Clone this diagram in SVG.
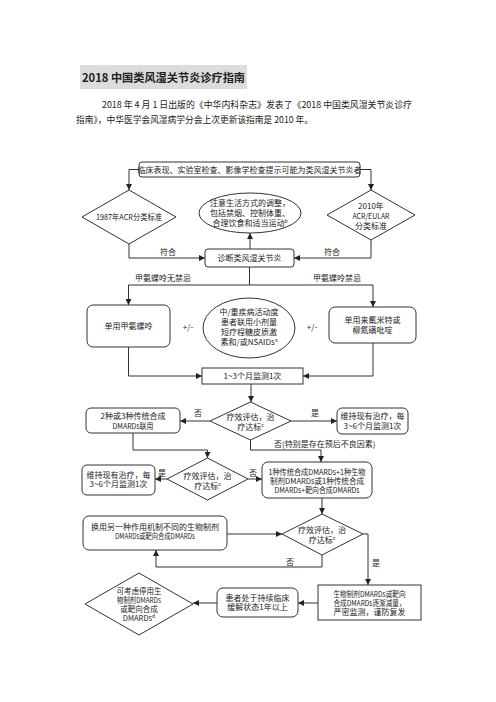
<svg xmlns="http://www.w3.org/2000/svg" width="496" height="702" viewBox="0 0 496 702">
<style>
text{font-family:"Noto Sans CJK SC","Liberation Serif",serif;fill:#222;}
.t{font-size:8px;text-anchor:middle;}
.s{font-size:7.5px;text-anchor:middle;}
.l{font-size:8px;}
.box{fill:#fff;stroke:#333;stroke-width:1;}
.ln{fill:none;stroke:#333;stroke-width:1;}
.ar{marker-end:url(#ah);}
.sup{font-size:5px;}
</style>
<defs>
<marker id="ah" markerUnits="userSpaceOnUse" markerWidth="6" markerHeight="6" refX="6" refY="3" orient="auto">
<path d="M0,0 L6,3 L0,6 z" fill="#222"/>
</marker>
</defs>
<rect width="496" height="702" fill="#fff"/>
<g id="title">
<rect x="80" y="65" width="167" height="24" fill="#dcdcdc"/>
<text x="82" y="82" font-size="11.5" font-weight="bold" textLength="163" lengthAdjust="spacingAndGlyphs">2018 中国类风湿关节炎诊疗指南</text>
</g>
<g id="paragraph">
<text x="102" y="108" font-size="9" fill="#333" textLength="310" lengthAdjust="spacingAndGlyphs">2018 年 4 月 1 日出版的《中华内科杂志》发表了《2018 中国类风湿关节炎诊疗</text>
<text x="76" y="122.5" font-size="9" fill="#333" textLength="237" lengthAdjust="spacingAndGlyphs">指南》，中华医学会风湿病学分会上次更新该指南是 2010 年。</text>
</g>
<g id="connectors">
<path class="ln ar" d="M139,169.5 H129 V190"/>
<path class="ln ar" d="M360,169.5 H371 V190"/>
<path class="ln ar" d="M129,244 V258 H205"/>
<path class="ln ar" d="M371,240 V258 H294"/>
<path class="ln ar" d="M250,249 V233"/>
<path class="ln ar" d="M249.5,267 V285 H128.5 V305"/>
<path class="ln ar" d="M249.5,285 H373 V307"/>
<path class="ln ar" d="M128.5,347 V376 H202"/>
<path class="ln ar" d="M373,343 V376 H303"/>
<path class="ln ar" d="M251,384 V402"/>
<path class="ln ar" d="M210,421 H180"/>
<path class="ln ar" d="M291,421 H337"/>
<path class="ln ar" d="M250.5,440 V450 H321 V462"/>
<path class="ln ar" d="M133,433 V450 H207.5 V458"/>
<path class="ln ar" d="M167,479 H155"/>
<path class="ln ar" d="M248,479 H262"/>
<path class="ln ar" d="M322,498 V514"/>
<path class="ln ar" d="M227,534 H282"/>
<path class="ln ar" d="M322,555 V567 H156 V550"/>
<path class="ln ar" d="M363,534 H368 V585"/>
<path class="ln ar" d="M318,603 H298"/>
<path class="ln ar" d="M217,603 H193"/>
<text class="l" x="160" y="255">符合</text>
<text class="l" x="324" y="255">符合</text>
<text class="t" x="163" y="281">甲氨蝶呤无禁忌</text>
<text class="t" x="337" y="281">甲氨蝶呤禁忌</text>
<text class="t" x="188" y="330">+/-</text>
<text class="t" x="312" y="330">+/-</text>
<text class="l" x="194" y="416">否</text>
<text class="l" x="311" y="416">是</text>
<text class="l" x="274" y="446.5">否(特别是存在预后不良因素)</text>
<text class="l" x="158" y="476">是</text>
<text class="l" x="249" y="476">否</text>
<text class="l" x="286" y="565">否</text>
<text class="l" x="372" y="566">是</text>
</g>
<g id="n-start">
<rect class="box" x="139" y="162" width="221" height="15" rx="3"/>
<text class="t" x="249.5" y="172.5">临床表现、实验室检查、影像学检查提示可能为类风湿关节炎者</text>
</g>
<g id="n-acr1987">
<polygon class="box" points="129,190 176,217 129,244 82,217"/>
<text class="t" x="129" y="220" textLength="66" lengthAdjust="spacingAndGlyphs">1987年ACR分类标准</text>
</g>
<g id="n-acr2010">
<polygon class="box" points="371,190 415,215 371,240 327,215"/>
<text class="t" x="371" y="209">2010年</text>
<text class="t" x="371" y="219" textLength="37" lengthAdjust="spacingAndGlyphs">ACR/EULAR</text>
<text class="t" x="371" y="229">分类标准</text>
</g>
<g id="n-lifestyle">
<ellipse class="box" cx="250" cy="213" rx="51" ry="20"/>
<text class="t" x="250" y="206">注意生活方式的调整，</text>
<text class="t" x="250" y="216">包括禁烟、控制体重、</text>
<text class="t" x="250" y="226">合理饮食和适当运动<tspan class="sup" dy="-3">b</tspan></text>
</g>
<g id="n-diagnosis">
<rect class="box" x="205" y="249" width="89" height="18" rx="3"/>
<text class="t" x="249.5" y="261">诊断类风湿关节炎</text>
</g>
<g id="n-mtx">
<rect class="box" x="87" y="305" width="83" height="42" rx="6"/>
<text class="t" x="128.5" y="329">单用甲氨蝶呤</text>
</g>
<g id="n-lef">
<rect class="box" x="329" y="307" width="87" height="36" rx="6"/>
<text class="t" x="372.5" y="323">单用来氟米特或</text>
<text class="t" x="372.5" y="333">柳氮磺吡啶</text>
</g>
<g id="n-gc">
<ellipse class="box" cx="249" cy="328" rx="46" ry="30"/>
<text class="t" x="249" y="315">中/重疾病活动度</text>
<text class="t" x="249" y="325">患者联用小剂量</text>
<text class="t" x="249" y="335">短疗程糖皮质激</text>
<text class="t" x="249" y="345">素和/或NSAIDs<tspan class="sup" dy="-3">a</tspan></text>
</g>
<g id="n-monitor">
<rect class="box" x="202" y="368" width="101" height="16"/>
<text class="t" x="252.5" y="379">1~3个月监测1次</text>
</g>
<g id="n-eval1">
<polygon class="box" points="250.5,402 291,421 250.5,440 210,421"/>
<text class="t" x="250.5" y="419.5">疗效评估，治</text>
<text class="t" x="250.5" y="429.5">疗达标<tspan class="sup" dy="-3">c</tspan></text>
</g>
<g id="n-combo">
<rect class="box" x="86" y="408" width="94" height="25" rx="5"/>
<text class="t" x="133" y="419">2种或3种传统合成</text>
<text class="t" x="133" y="428.5" textLength="41" lengthAdjust="spacingAndGlyphs">DMARDs联用</text>
</g>
<g id="n-keep1">
<rect class="box" x="337" y="408" width="71" height="26" rx="5"/>
<text class="t" x="372.5" y="419">维持现有治疗，每</text>
<text class="t" x="372.5" y="429">3~6个月监测1次</text>
</g>
<g id="n-eval2">
<polygon class="box" points="207.5,458 248,479 207.5,500 167,479"/>
<text class="t" x="207.5" y="478.5">疗效评估，治</text>
<text class="t" x="207.5" y="488.5">疗达标<tspan class="sup" dy="-3">c</tspan></text>
</g>
<g id="n-keep2">
<rect class="box" x="82" y="465" width="73" height="30" rx="5"/>
<text class="t" x="118.5" y="477.5">维持现有治疗，每</text>
<text class="t" x="118.5" y="487">3~6个月监测1次</text>
</g>
<g id="n-bio">
<rect class="box" x="262" y="462" width="110" height="36" rx="6"/>
<text class="t" x="317" y="474.5" textLength="97" lengthAdjust="spacingAndGlyphs">1种传统合成DMARDs+1种生物</text>
<text class="t" x="317" y="483.5" textLength="94" lengthAdjust="spacingAndGlyphs">制剂DMARDs或1种传统合成</text>
<text class="t" x="317" y="492.5" textLength="85" lengthAdjust="spacingAndGlyphs">DMARDs+靶向合成DMARDs</text>
</g>
<g id="n-eval3">
<polygon class="box" points="322,514 363,534 322,555 282,534"/>
<text class="t" x="322" y="533">疗效评估，治</text>
<text class="t" x="322" y="542.5">疗达标<tspan class="sup" dy="-3">c</tspan></text>
</g>
<g id="n-switch">
<rect class="box" x="83" y="516" width="144" height="34" rx="6"/>
<text class="t" x="155" y="529.5">换用另一种作用机制不同的生物制剂</text>
<text class="t" x="155" y="538.5" textLength="80" lengthAdjust="spacingAndGlyphs">DMARDs或靶向合成DMARDs</text>
</g>
<g id="n-taper">
<rect class="box" x="318" y="585" width="103" height="35"/>
<text class="t" x="369.5" y="596.5" textLength="72" lengthAdjust="spacingAndGlyphs">生物制剂DMARDs或靶向</text>
<text class="t" x="369.5" y="605.5" textLength="72" lengthAdjust="spacingAndGlyphs">合成DMARDs逐渐减量，</text>
<text class="t" x="369.5" y="614.5">严密监测，谨防复发</text>
</g>
<g id="n-remission">
<rect class="box" x="217" y="588" width="81" height="29" rx="6"/>
<text class="t" x="257.5" y="600.5">患者处于持续临床</text>
<text class="t" x="257.5" y="610">缓解状态1年以上</text>
</g>
<g id="n-stop">
<polygon class="box" points="139,573 193,604 139,635 85,604"/>
<text class="s" x="139" y="593.5">可考虑停用生</text>
<text class="s" x="139" y="602.5" textLength="44" lengthAdjust="spacingAndGlyphs">物制剂DMARDs</text>
<text class="s" x="139" y="611.5">或靶向合成</text>
<text class="s" x="139" y="620.5">DMARDs<tspan class="sup" dy="-3">d</tspan></text>
</g>
</svg>
